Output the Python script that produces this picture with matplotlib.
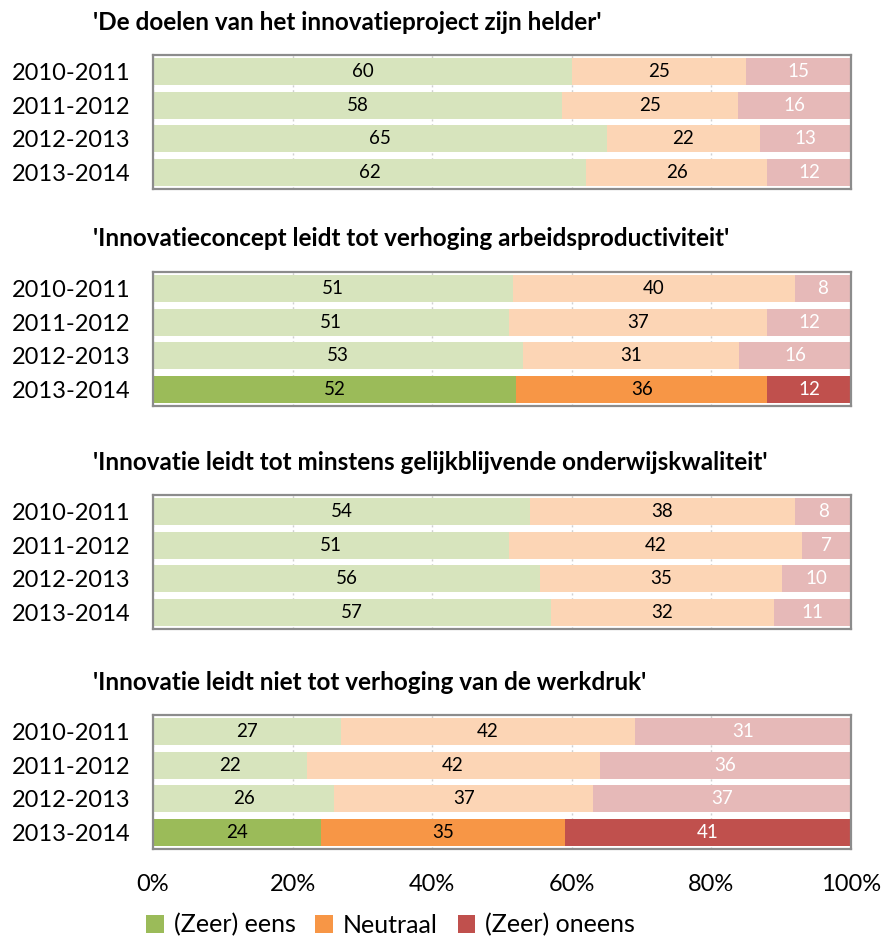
import numpy as np
import matplotlib.pyplot as plt
from matplotlib.patches import Patch

plt.rcParams['font.family'] = ['Lato', 'DejaVu Sans']

years = ['2010-2011', '2011-2012', '2012-2013', '2013-2014']
titles = [
    "'De doelen van het innovatieproject zijn helder'",
    "'Innovatieconcept leidt tot verhoging arbeidsproductiviteit'",
    "'Innovatie leidt tot minstens gelijkblijvende onderwijskwaliteit'",
    "'Innovatie leidt niet tot verhoging van de werkdruk'",
]
eens = [[60, 58, 65, 62], [51, 51, 53, 52], [54, 51, 56, 57], [27, 22, 26, 24]]
neutraal = [[25, 25, 22, 26], [40, 37, 31, 36], [38, 42, 35, 32], [42, 42, 37, 35]]
oneens = [[15, 16, 13, 12], [8, 12, 16, 12], [8, 7, 10, 11], [31, 36, 37, 41]]
# which panels highlight the last year
highlight = [False, True, False, True]

full = ['#9BBB59', '#F79646', '#C0504D']
light = ['#D7E4BD', '#FCD5B5', '#E6B9B8']
txtcol = ['black', 'black', 'white']
legend_labels = ['(Zeer) eens', 'Neutraal', '(Zeer) oneens']

fig = plt.figure(figsize=(8.82, 9.36), dpi=100)
W, H = 882, 936
ax_top = [55, 272, 495, 715]
ax_h = 134
left, right = 153, 851

for p in range(4):
    top = ax_top[p]
    ax = fig.add_axes([left / W, 1 - (top + ax_h) / H, (right - left) / W, ax_h / H])
    data = np.array([eens[p], neutraal[p], oneens[p]], dtype=float)
    pct = data / data.sum(axis=0) * 100
    ypos = np.arange(4)
    start = np.zeros(4)
    for k in range(3):
        cols = [light[k]] * 4
        if highlight[p]:
            cols[3] = full[k]
        ax.barh(ypos, pct[k], left=start, height=0.8, color=cols, zorder=2)
        for i in range(4):
            ax.text(start[i] + pct[k][i] / 2, ypos[i], '%d' % data[k][i],
                    ha='center', va='center', fontsize=13.5, color=txtcol[k], zorder=3)
        start += pct[k]
    ax.set_xlim(0, 100)
    ax.set_ylim(3.5, -0.5)
    ax.set_yticks(ypos)
    ax.set_yticklabels(years, fontsize=17)
    ax.tick_params(axis='y', length=0, pad=16)
    ax.set_xticks([0, 20, 40, 60, 80, 100])
    ax.xaxis.grid(True, linestyle=(0, (1.5, 2)), color='#D0D0D0', linewidth=1, zorder=1)
    ax.set_axisbelow(True)
    if p == 3:
        ax.set_xticklabels(['0%', '20%', '40%', '60%', '80%', '100%'], fontsize=17)
        ax.tick_params(axis='x', length=0, pad=18)
    else:
        ax.tick_params(axis='x', length=0, labelbottom=False)
    for s in ax.spines.values():
        s.set_color('#8C8C8C')
        s.set_linewidth(1.6)
    fig.text(93 / W, 1 - (top - 33) / H, titles[p], ha='left', va='center',
             fontsize=17.5, fontweight='bold')

handles = [Patch(facecolor=c) for c in full]
fig.legend(handles, legend_labels, loc='center left', bbox_to_anchor=(136 / W, 1 - 925 / H),
           ncol=3, frameon=False, fontsize=18, handlelength=0.7, handleheight=0.7,
           handletextpad=0.4, columnspacing=0.8, borderaxespad=0)

fig.savefig('out.png', dpi=100)
